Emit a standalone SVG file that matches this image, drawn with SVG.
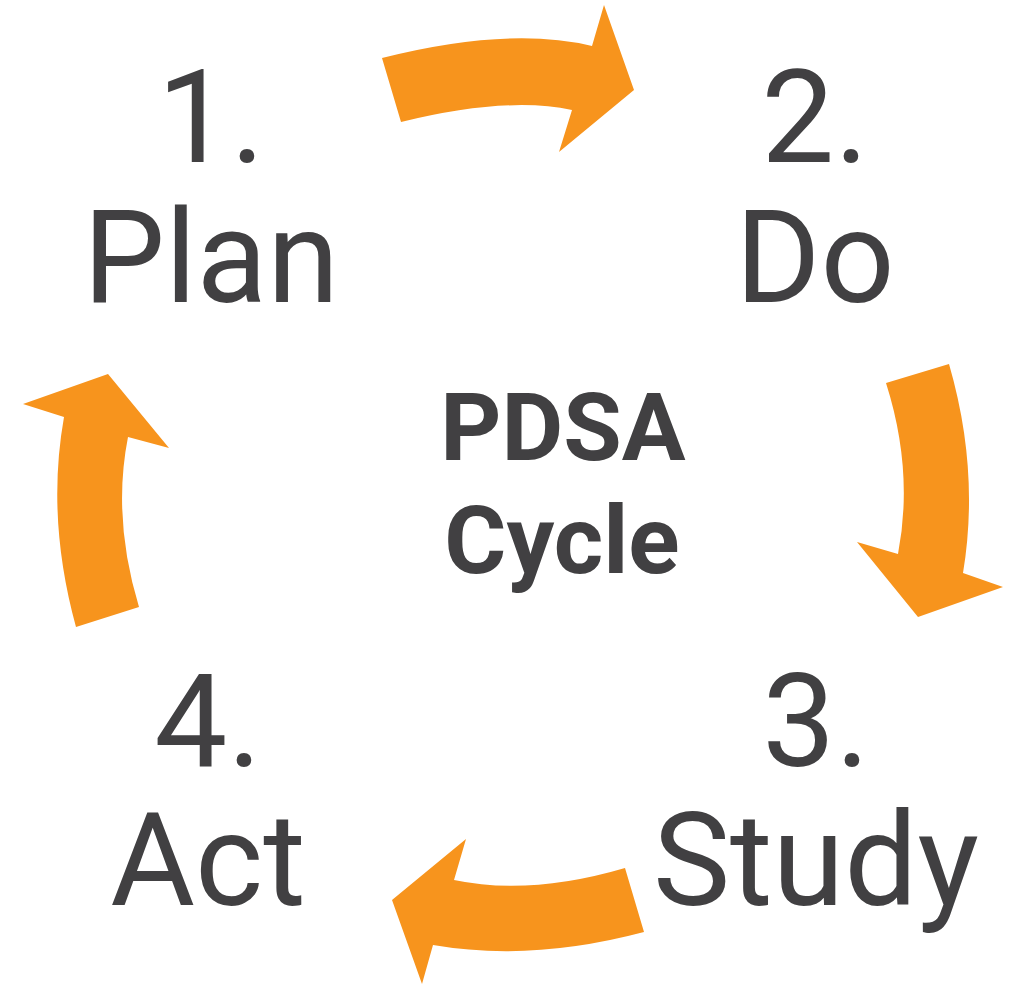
<svg xmlns="http://www.w3.org/2000/svg" width="1010" height="984" viewBox="0 0 1010 984">
<style>
.arrow{fill:#F7941D;}
.lbl{font-family:Roboto,"Liberation Sans",sans-serif;font-size:130px;fill:#414042;text-anchor:middle;}
.title{font-family:Roboto,"Liberation Sans",sans-serif;font-size:95px;font-weight:bold;fill:#414042;text-anchor:middle;}
</style>
<rect width="1010" height="984" fill="#ffffff"/>
<g id="connectors">
<path class="arrow" d="M382,58 Q509,26 592,46 L604,5 L634,90 L559,152 L572,110 Q507,96 401,122 Z"/>
<path class="arrow" d="M886,383 L949,364 Q980,471 963,573 L1003,587 L918,617 L857,542 L898,554 Q914,471 886,383 Z"/>
<path class="arrow" d="M625,868 L644,932 Q531,962 433,945 L422,984 L392,900 L466,839 L454,880 Q530,896 625,868 Z"/>
<path class="arrow" d="M76,627 L139,607 Q112,518 128,437 L169,448 L108,374 L23,404 L64,417 Q46,518 76,627 Z"/>
</g>
<g id="plan"><text class="lbl" x="211" y="162">1.</text><text class="lbl" x="211" y="302">Plan</text></g>
<g id="do"><text class="lbl" x="815" y="162">2.</text><text class="lbl" x="815" y="302">Do</text></g>
<g id="study"><text class="lbl" x="816" y="766">3.</text><text class="lbl" x="816" y="905">Study</text></g>
<g id="act"><text class="lbl" x="208" y="766">4.</text><text class="lbl" x="208" y="905">Act</text></g>
<g id="center"><text class="title" x="563" y="460">PDSA</text><text class="title" x="562" y="573">Cycle</text></g>
</svg>
